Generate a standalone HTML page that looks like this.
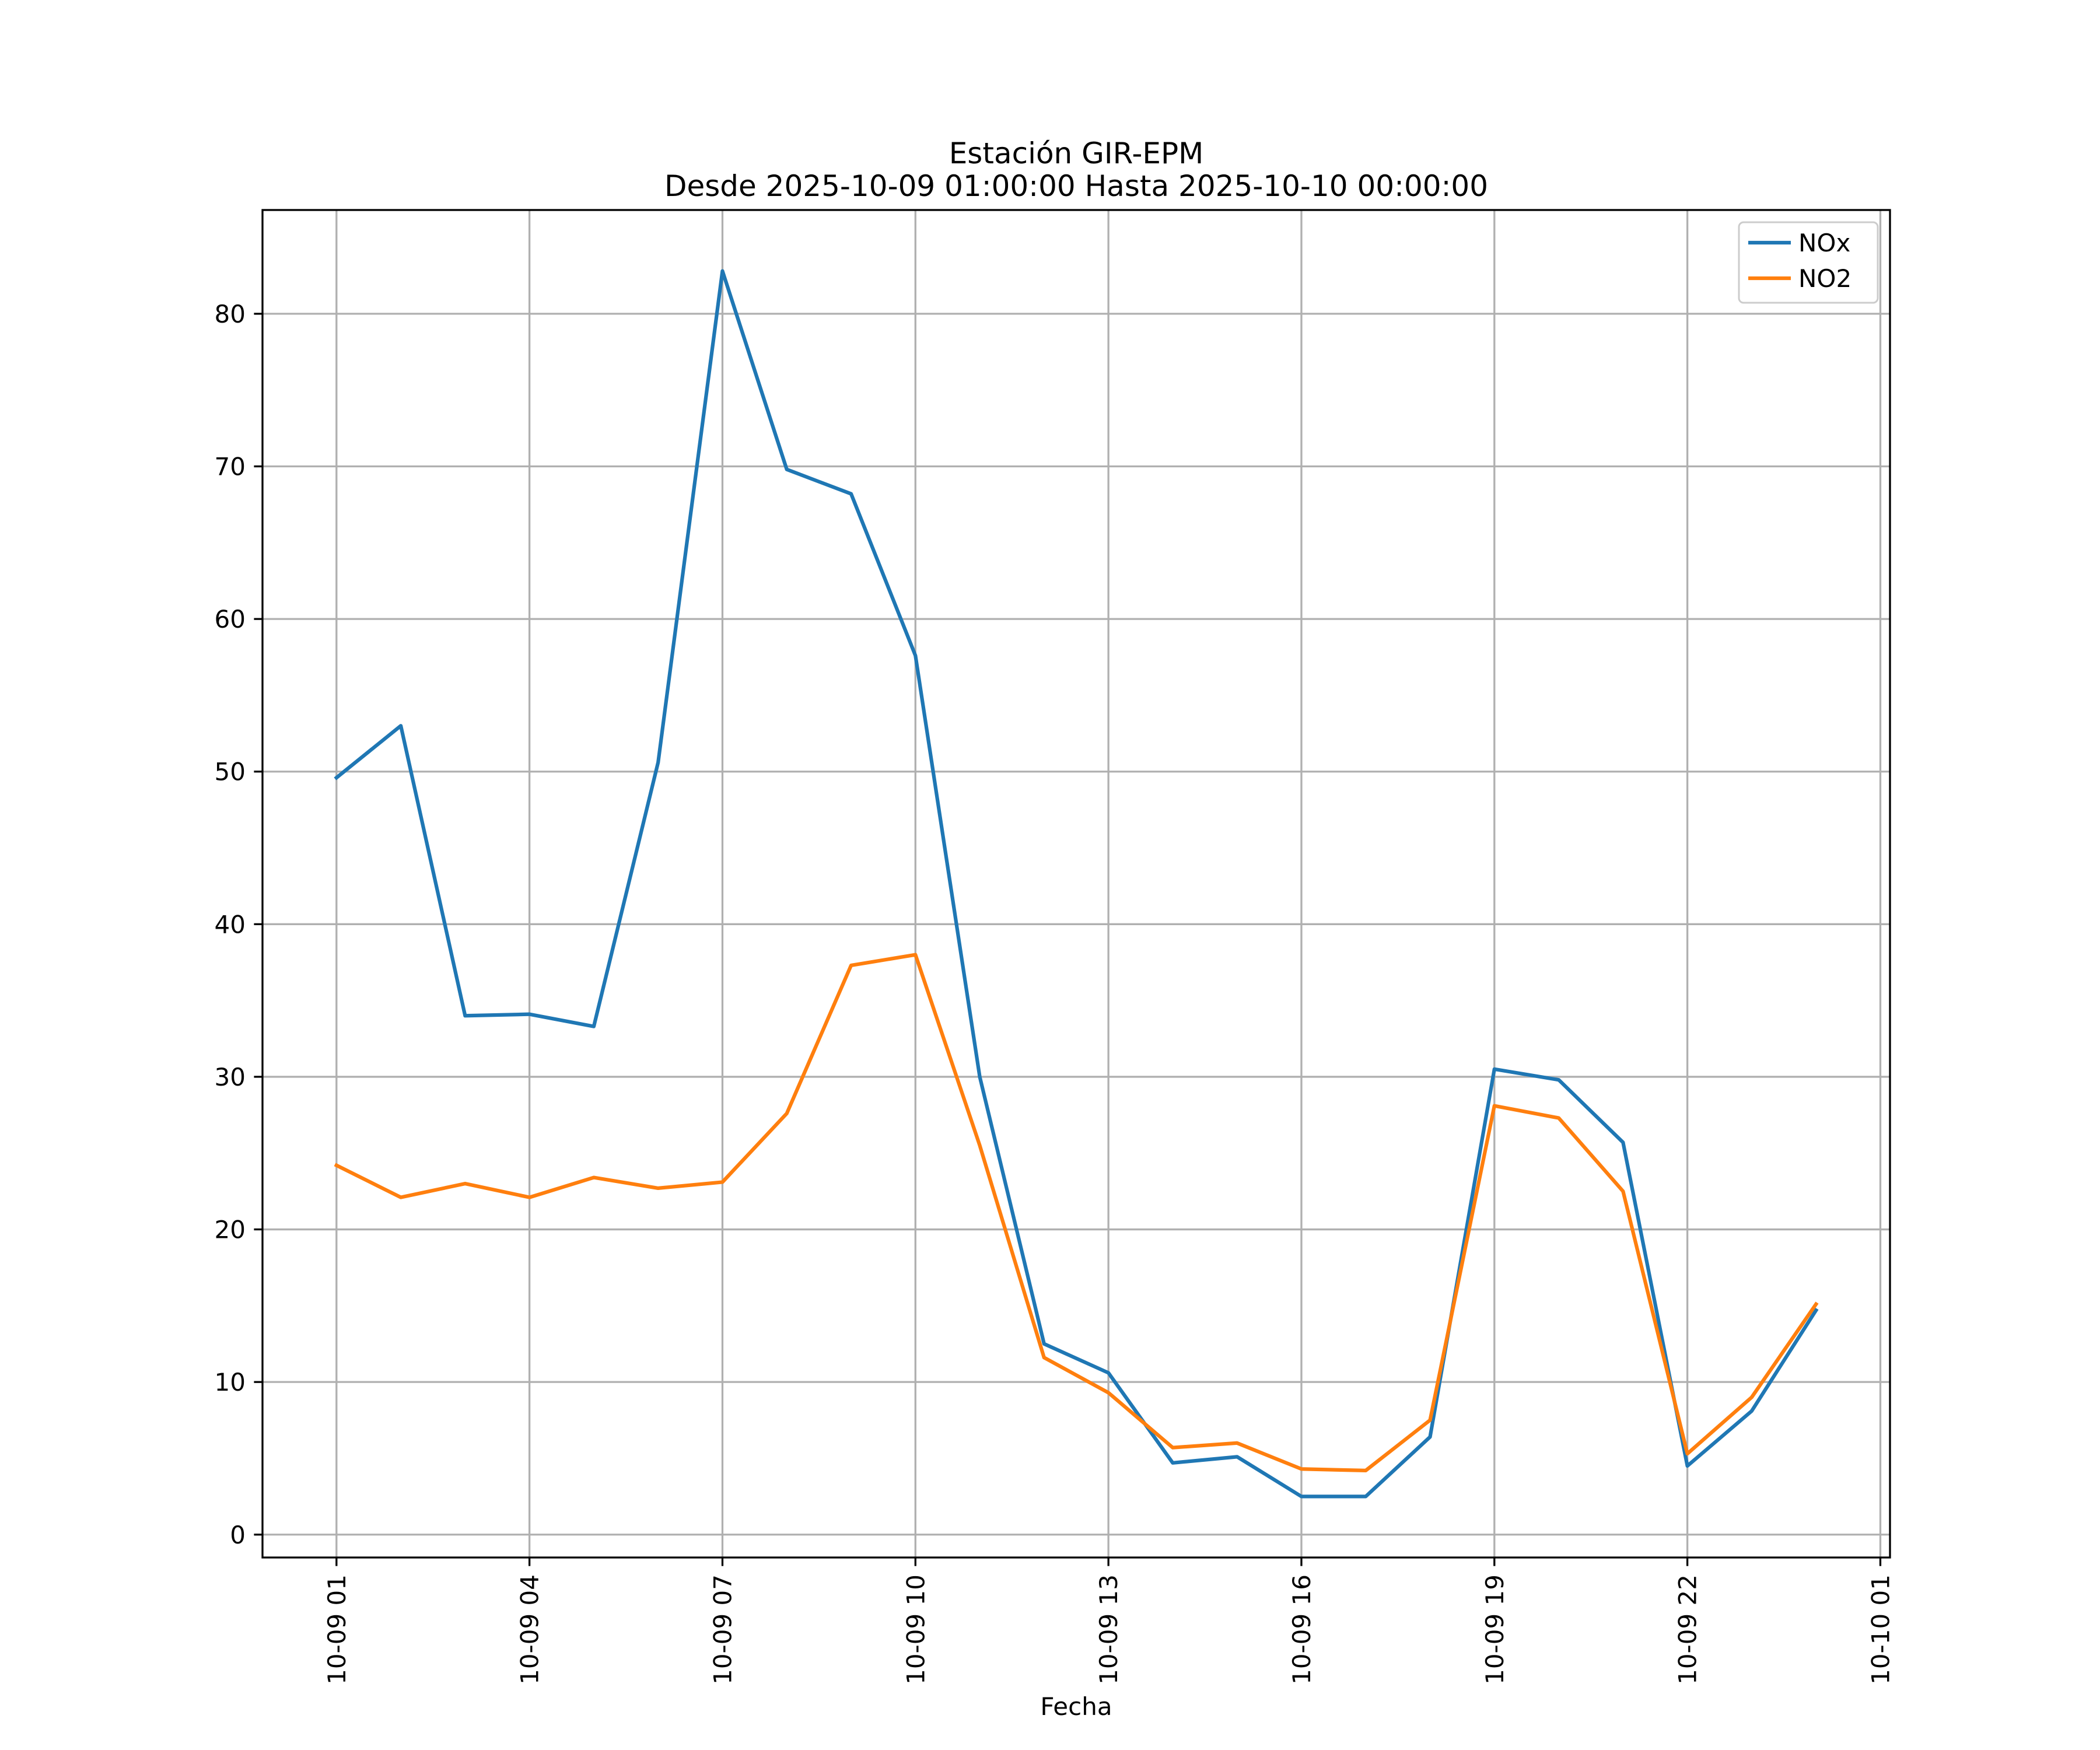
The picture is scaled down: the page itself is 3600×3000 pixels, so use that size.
<!DOCTYPE html>
<html><head><meta charset="utf-8"><style>body{margin:0;background:#fff}svg{display:block;font-family:"DejaVu Sans","Liberation Sans",sans-serif}</style></head>
<body>
<svg id="chart" width="3600" height="3000" xmlns="http://www.w3.org/2000/svg">
<rect width="3600" height="3000" fill="#fff"/>
<text x="1845" y="280" font-size="50" text-anchor="middle">Estación GIR-EPM</text>
<text x="1845" y="336" font-size="50" text-anchor="middle">Desde 2025-10-09 01:00:00 Hasta 2025-10-10 00:00:00</text>
<g id="grid"></g><g id="series"></g><g id="axes"></g>
<text x="1845" y="2940" font-size="42" text-anchor="middle">Fecha</text>
<g>
<rect x="2981" y="381" width="238" height="138" rx="8" fill="#fff" fill-opacity="0.8" stroke="#ccc" stroke-width="3"/>
<line x1="2997" y1="416" x2="3070" y2="416" stroke="#1f77b4" stroke-width="6.25"/>
<text x="3083" y="431" font-size="42">NOx</text>
<line x1="2997" y1="477" x2="3070" y2="477" stroke="#ff7f0e" stroke-width="6.25"/>
<text x="3083" y="492" font-size="42">NO2</text>
</g>
</svg>
<script>
const hours=[1,2,3,4,5,6,7,8,9,10,11,12,13,14,15,16,17,18,19,20,21,22,23,24];
const noxValues=[49.6,53.0,34.0,34.1,33.3,50.6,82.8,69.8,68.2,57.6,30.0,12.5,10.6,4.7,5.1,2.5,2.5,6.4,30.5,29.8,25.7,4.5,8.1,14.7];
const no2Values=[24.2,22.1,23.0,22.1,23.4,22.7,23.1,27.6,37.3,38.0,25.5,11.6,9.3,5.7,6.0,4.3,4.2,7.5,28.1,27.3,22.5,5.3,9.0,15.1];
const yTicks=[0,10,20,30,40,50,60,70,80];
const xTickHours=[1,4,7,10,13,16,19,22,25];
const xTickLabels=["10-09 01","10-09 04","10-09 07","10-09 10","10-09 13","10-09 16","10-09 19","10-09 22","10-10 01"];
const L=450,R=3240,T=360,B=2670;
const x0=-0.15,x1=25.15,y0=-1.5,y1=86.8;
const sx=v=>L+(v-x0)/(x1-x0)*(R-L);
const sy=v=>B-(v-y0)/(y1-y0)*(B-T);
const NS="http://www.w3.org/2000/svg";
function mk(tag,attrs,parent){const e=document.createElementNS(NS,tag);for(const k in attrs)e.setAttribute(k,attrs[k]);parent.appendChild(e);return e;}
const grid=document.getElementById('grid'),axes=document.getElementById('axes'),series=document.getElementById('series');
yTicks.forEach(t=>{
 const g=mk('line',{x1:L,x2:R,y1:sy(t),y2:sy(t),stroke:'#b0b0b0','stroke-width':3.3},grid);
 
 
 mk('line',{x1:L-14.6,x2:L,y1:sy(t),y2:sy(t),stroke:'#000','stroke-width':3.3},axes);
 const tx=mk('text',{x:L-29,y:sy(t)+15,'font-size':42,'text-anchor':'end'},axes);
 tx.textContent=t;
 
 
});
xTickHours.forEach((h,i)=>{
 const g=mk('line',{x1:sx(h),x2:sx(h),y1:T,y2:B,stroke:'#b0b0b0','stroke-width':3.3},grid);
 
 
 mk('line',{x1:sx(h),x2:sx(h),y1:B,y2:B+14.6,stroke:'#000','stroke-width':3.3},axes);
 const tx=mk('text',{x:0,y:0,'font-size':42,'text-anchor':'end',transform:`translate(${sx(h)+15},${B+29}) rotate(-90)`},axes);
 tx.textContent=xTickLabels[i];
 
 
});
const frame=mk('rect',{x:L,y:T,width:R-L,height:B-T,fill:'none',stroke:'#000','stroke-width':3.3},axes);


function line(vals,color,name){
 const p=mk('polyline',{points:vals.map((v,i)=>sx(hours[i])+','+sy(v)).join(' '),fill:'none',stroke:color,'stroke-width':6.25,'stroke-linejoin':'round','stroke-linecap':'square'},series);
 
 
}
line(noxValues,'#1f77b4','nox-line');
line(no2Values,'#ff7f0e','no2-line');
</script>
</body></html>
